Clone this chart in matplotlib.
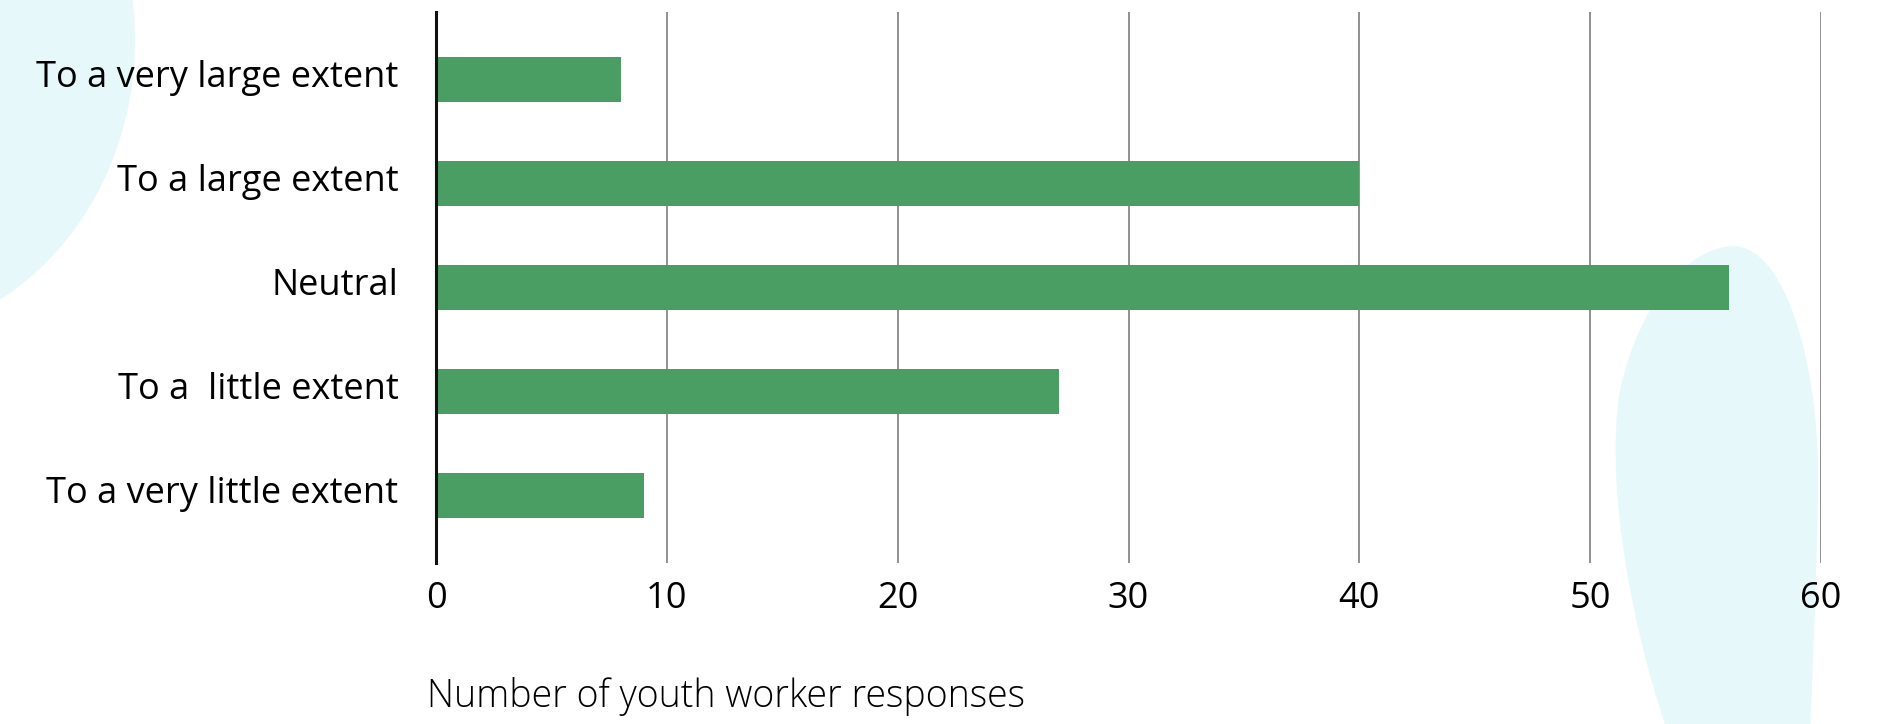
import matplotlib
matplotlib.use("Agg")
import matplotlib.pyplot as plt
import matplotlib.transforms as mtransforms
from matplotlib.path import Path
from matplotlib.patches import PathPatch, Ellipse

plt.rcParams['font.family'] = ['Open Sans', 'DejaVu Sans']

categories = ['To a very little extent', 'To a  little extent', 'Neutral',
              'To a large extent', 'To a very large extent']
responses = [9, 27, 56, 40, 8]
xticks = [0, 10, 20, 30, 40, 50, 60]

bar_color = '#4a9d63'
blob_color = '#e6f8fa'

fig = plt.figure(figsize=(18.85, 7.24), dpi=100)

# background decoration, drawn in pixel space
bg = fig.add_axes([0, 0, 1, 1], zorder=0)
bg.set_xlim(0, 1885)
bg.set_ylim(724, 0)
bg.axis('off')
bg.add_patch(Ellipse((-130, 40), 530, 596, color=blob_color, lw=0))
verts = [(1735, 246),
         (1790, 250), (1822, 380), (1818, 500),
         (1816, 600), (1812, 680), (1810, 740),
         (1740, 740), (1665, 740), (1665, 724),
         (1630, 620), (1605, 480), (1620, 390),
         (1640, 300), (1690, 246), (1735, 246)]
codes = [Path.MOVETO] + [Path.CURVE4] * 6 + [Path.LINETO] * 3 + [Path.CURVE4] * 6
bg.add_patch(PathPatch(Path(verts, codes), color=blob_color, lw=0))

ax = fig.add_axes([436 / 1885, 1 - 563 / 724, (1821 - 436) / 1885, (563 - 12) / 724], zorder=1)
ax.patch.set_alpha(0)

ax.barh(range(len(categories)), responses, height=0.43, color=bar_color, zorder=3)
ax.set_yticks(range(len(categories)))
ax.set_yticklabels(categories, fontsize=26)
ax.set_ylim(-0.65, 4.65)
ax.set_xlim(0, 60)
ax.set_xticks(xticks)
ax.set_xticklabels([str(t) for t in xticks], fontsize=26)
ax.tick_params(length=0)
ax.tick_params(axis='x', pad=13)
ax.tick_params(axis='y', pad=27)

# nudge category labels up slightly
shift = mtransforms.ScaledTranslation(0, 4.5 / 72, fig.dpi_scale_trans)
for lbl in ax.get_yticklabels():
    lbl.set_transform(lbl.get_transform() + shift)

ax.grid(axis='x', color='#888888', lw=1.3, zorder=1)
for s in ['top', 'right', 'bottom']:
    ax.spines[s].set_visible(False)
ax.spines['left'].set_linewidth(2.2)
ax.spines['left'].set_color('#111111')
ax.spines['left'].set_zorder(4)

fig.text(427 / 1885, 1 - 697 / 724, 'Number of youth worker responses',
         fontsize=27, fontweight='light', va='center', ha='left')

fig.savefig('out.png', dpi=100)
